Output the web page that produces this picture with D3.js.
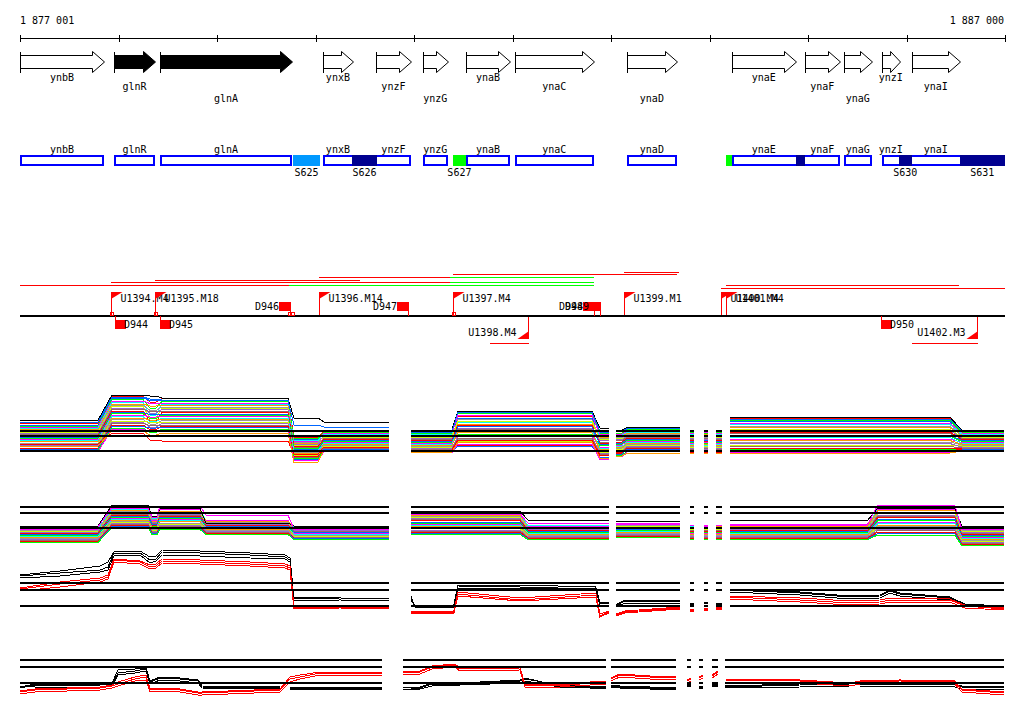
<!DOCTYPE html>
<html>
<head>
<meta charset="utf-8">
<script src="https://cdn.jsdelivr.net/npm/d3@7/dist/d3.min.js"></script>
<style>
html,body{margin:0;padding:0;background:#fff;}
svg{display:block;}
text{font-family:"DejaVu Sans Mono",monospace;font-size:10px;fill:#000;}
</style>
</head>
<body>
<svg id="chart" width="1024" height="714"></svg>
<script>
// ---------------- DATA (positions are bp offsets from 1 877 000) ----------------
const rulerLabels = ["1 877 001", "1 887 000"];
const rulerTicks = [0,1000,2000,3000,4000,5000,6000,7000,8000,9000,10000];

const geneNames = ["ynbB","glnR","glnA","ynxB","ynzF","ynzG","ynaB","ynaC","ynaD","ynaE","ynaF","ynaG","ynzI","ynaI"];
const geneStart = [0,954,1421,3075,3613,4090,4527,5024,6161,7228,7968,8364,8749,9054];
const geneEnd   = [853,1370,2761,3380,3969,4344,4974,5826,6669,7876,8323,8648,8932,9541];
const geneDark  = [0,1,1,0,0,0,0,0,0,0,0,0,0,0];
const geneLabelRow = [0,1,2,0,1,2,0,1,2,0,1,2,0,1];

const boxStart = [0,954,1421,3075,4090,4527,5024,6161,7228,8364,8749];
const boxEnd   = [853,1370,2761,3969,4344,4974,5826,6669,8323,8648,9998];

const segNames = ["S625","S626","S627","","","S630","S631"];
const segStart = [2771,3370,4395,7166,7876,8922,9541];
const segEnd   = [3045,3624,4527,7228,7968,9054,9998];
const segColors = ["#0099ff","#000090","#00ff00","#00ff00","#000090","#000090","#000090"];

const trackLineStart = [0,2730,924,4365,1370,3035,4365,4395,6131,7166,7115];
const trackLineEnd   = [2730,5826,4365,5826,3451,4365,5826,6669,6689,9531,9998];
const trackLineRow   = [1,1,2,2,3,4,4,5,6,1,0];
const trackLineColor = ["#ff0000","#00ff00","#ff0000","#00ff00","#ff0000","#ff0000","#00ff00","#ff0000","#ff0000","#ff0000","#ff0000"];

const promNames = ["U1394.M4","U1395.M18","U1396.M14","U1397.M4","U1399.M1","U1400.M4","U1401.M4"];
const promPos   = [924,1370,3035,4395,6131,7115,7166];
const promDownNames = ["U1398.M4","U1402.M3"];
const promDownPos   = [5156,9714];
const promDownLineStart = [4771,9054];

const termNames  = ["D944","D945","D946","D947","D948","D949","D950"];
const termPos    = [964,1421,2741,3938,5826,5887,8739];
const termStrand = [-1,-1,1,1,1,1,-1];
const baseMarkPos = [914,1360,2720,2751,4385];

// Panel A (tiling signal, many conditions) – level per probe block
const blocksA = [[0,792],[934,1248],[1320,1380],[1441,2720],[2781,3025],[3086,3745],[3969,4385],[4446,5806],[5887,5978],[6049,6110],[6171,6699],[6801,6841],[6943,6983],[7064,7125],[7207,9440],[9561,9988]];
const blockSegA = [1,1,1,1,1,1,2,2,2,3,3,4,5,6,7,7];
const seriesA = [
 [9.3,14.7,13.6,14.3,6.5,7.9,7.8,10.7,7.9,7.9,8.5,7.9,7.7,7.9,10.3,7.9],
 [9.0,14.4,13.9,14.0,6.1,7.7,7.6,10.4,7.6,7.7,8.3,7.7,7.9,7.7,9.7,7.7],
 [8.8,14.1,12.4,13.7,6.3,7.5,7.4,11.3,7.4,7.4,8.1,7.5,7.3,7.5,10.0,7.5],
 [8.6,13.8,13.3,13.4,5.7,7.4,7.2,11.0,7.1,7.2,7.8,7.3,7.5,7.3,9.4,7.4],
 [8.3,13.5,11.0,13.2,5.9,7.2,7.1,9.5,6.9,7.0,7.6,7.1,6.9,7.1,9.1,7.2],
 [8.1,13.2,12.8,12.9,5.3,7.0,6.9,9.2,6.6,6.8,7.4,6.9,7.1,6.9,8.5,7.0],
 [7.8,13.0,11.9,12.6,5.5,6.8,6.7,10.1,6.4,6.5,7.2,6.7,6.5,6.7,8.8,6.8],
 [7.6,12.7,10.4,12.3,4.9,6.6,6.5,9.8,6.1,6.3,7.0,6.5,6.7,6.5,8.2,6.6],
 [7.3,12.4,11.4,12.1,5.1,6.4,6.3,8.4,5.9,6.1,6.8,6.3,6.1,6.3,7.9,6.4],
 [7.1,12.1,11.7,11.8,4.5,6.3,6.1,8.1,5.6,5.9,6.6,6.1,6.3,6.1,7.3,6.3],
 [6.9,11.8,9.6,11.5,4.7,6.1,5.9,9.0,5.4,5.6,6.4,5.9,5.7,5.9,7.6,6.1],
 [6.6,11.5,11.1,11.2,4.1,5.9,5.7,8.7,5.1,5.4,6.2,5.7,5.9,5.7,7.0,5.9],
 [6.4,11.3,10.3,11.0,4.3,5.7,5.6,7.2,4.9,5.2,6.0,5.5,5.3,5.5,6.8,5.7],
 [6.1,11.0,10.6,10.7,3.7,5.5,5.4,6.9,4.6,5.0,5.8,5.3,5.5,5.3,6.2,5.5],
 [5.9,10.7,9.7,10.4,3.9,5.3,5.2,7.8,4.4,4.7,5.6,5.1,4.9,5.1,6.5,5.3],
 [5.7,10.4,10.0,10.1,3.3,5.2,5.0,7.5,4.1,4.5,5.4,4.9,5.1,4.9,5.9,5.2],
 [5.4,10.1,9.2,9.9,3.5,5.0,4.8,6.1,3.9,4.3,5.2,4.7,4.5,4.7,5.6,5.0],
 [5.2,9.8,9.5,9.6,2.9,4.8,4.6,5.8,3.6,4.1,5.0,4.5,4.7,4.5,5.0,4.8],
 [4.9,9.6,8.6,9.3,3.1,4.6,4.4,6.7,3.4,3.8,4.8,4.3,4.1,4.3,5.3,4.6],
 [4.7,9.3,8.9,9.0,2.5,4.4,4.2,6.4,3.1,3.6,4.6,4.1,4.3,4.1,4.7,4.4],
 [4.4,9.0,8.1,8.8,2.7,4.2,4.0,4.9,2.9,3.4,4.4,3.9,3.7,3.9,4.4,4.2],
 [4.2,8.7,8.4,8.5,2.1,4.1,3.8,4.7,2.6,3.2,4.2,3.7,3.9,3.7,3.8,4.1],
 [4.0,8.4,7.5,8.2,2.3,3.9,3.7,5.5,2.4,2.9,3.9,3.5,3.3,3.5,4.1,3.9],
 [3.7,8.1,7.8,7.9,1.9,3.7,3.5,5.2,2.1,2.7,3.7,3.3,3.5,3.3,3.5,3.7]
];
const extraA = [
 [10.0,15.0,14.8,14.4,10.4,9.6,8.0,11.8,8.4,8.0,8.6,8.0,8.0,8.0,10.6,8.0],
 [9.6,14.6,14.2,14.0,9.0,8.6,7.6,11.6,7.8,7.8,8.4,7.8,7.8,7.8,10.2,7.8],
 [5.2,7.4,6.0,5.8,3.2,4.6,4.0,6.0,3.0,3.6,4.4,3.6,3.6,3.6,4.4,4.0],
 [4.8,7.8,7.0,7.4,1.5,4.0,3.6,5.6,2.4,2.8,3.4,3.4,3.4,3.4,3.4,3.8]
];
const extraAColors = ["#000000","#0066ff","#ff0000","#ff9900"];
const refsA = [7.8,6.8,3.8];

// Panel B
const blocksB = [[0,792],[934,1299],[1340,1391],[1421,1827],[1888,2720],[2781,3745],[3969,5075],[5156,5978],[6049,6699],[6801,6841],[6943,6983],[7064,7125],[7207,8607],[8709,9490],[9561,9988]];
const blockSegB = [1,1,1,1,1,1,2,2,3,4,5,6,7,7,7];
const seriesB = [
 [4.2,8.3,6.0,8.1,5.9,4.4,7.5,4.8,5.3,4.6,4.7,4.4,4.9,8.2,4.3],
 [4.3,8.1,6.3,8.3,5.6,4.5,7.3,4.9,5.0,4.7,4.4,4.6,4.6,8.5,4.5],
 [4.0,7.9,5.8,7.8,5.8,4.3,7.0,4.6,5.2,4.4,4.6,4.7,4.8,7.9,4.1],
 [3.9,7.7,6.1,7.6,5.5,4.1,6.8,4.5,4.9,4.3,4.3,4.3,4.5,7.6,3.9],
 [3.7,7.5,5.6,7.4,5.3,4.0,6.6,4.3,4.7,4.2,4.2,4.2,4.3,7.3,3.7],
 [3.6,7.3,5.5,7.2,5.2,3.9,6.3,4.2,4.6,4.0,4.0,4.0,4.2,7.0,3.5],
 [3.4,7.1,5.3,7.0,5.0,3.8,6.1,4.0,4.4,3.9,3.9,3.9,4.0,6.8,3.3],
 [3.3,6.9,4.9,6.7,4.9,3.6,5.9,3.9,4.3,3.8,3.8,3.8,3.9,6.5,3.1],
 [3.1,6.7,5.1,6.5,4.7,3.5,5.6,3.7,4.1,3.6,3.6,3.6,3.7,6.2,2.9],
 [3.0,6.5,4.8,6.3,4.6,3.4,5.4,3.6,4.0,3.5,3.5,3.5,3.6,5.9,2.7],
 [2.8,6.3,4.6,6.1,4.4,3.3,5.2,3.4,3.8,3.3,3.3,3.3,3.4,5.6,2.6],
 [2.7,6.1,4.4,5.9,4.3,3.1,5.0,3.3,3.7,3.2,3.2,3.2,3.3,5.3,2.4],
 [2.5,5.9,4.3,5.7,4.1,3.0,4.7,3.1,3.5,3.1,3.1,3.1,3.1,5.0,2.2],
 [2.4,5.7,4.1,5.4,4.0,2.9,4.5,3.0,3.4,2.9,2.9,2.9,3.0,4.8,2.0],
 [2.2,5.5,3.9,5.2,3.8,2.8,4.3,2.8,3.2,2.8,2.8,2.8,2.8,4.5,1.8],
 [2.1,5.3,3.8,5.0,3.7,2.6,4.0,2.7,3.1,2.7,2.7,2.7,2.7,4.2,1.6],
 [1.9,5.1,3.6,4.8,3.5,2.5,3.8,2.5,2.9,2.5,2.5,2.5,2.5,3.9,1.4],
 [1.8,4.9,3.4,4.6,3.4,2.4,3.6,2.4,2.8,2.4,2.4,2.4,2.4,3.6,1.2],
 [1.6,4.7,3.3,4.3,3.2,2.3,3.3,2.2,2.6,2.2,2.2,2.2,2.2,3.3,1.0],
 [1.5,4.5,3.1,4.1,3.1,2.1,3.1,2.1,2.5,2.1,2.1,2.1,2.1,3.0,0.9]
];
const extraB = [
 [4.8,9.0,6.8,8.4,5.4,4.8,7.8,6.0,5.8,5.0,5.0,5.0,6.0,8.4,4.8],
 [4.6,8.6,6.6,8.8,7.0,4.2,7.2,5.4,5.2,4.9,4.9,4.9,5.2,9.0,4.2]
];
const extraBColors = ["#000000","#ff00ff"];
const refsB = [8.6,7.4,4.4];

// Panel C
const posC = [0,406,812,893,954,1218,1320,1380,1441,1827,2335,2690,2741,2781,3248,3745, 3969,4009,4405,4446,5075,5846,5887,5978, 6049,6141,6699, 6801,6841,6943,6983,7064,7125, 7207,7917,8425,8729,8831,8932,9440,9592,9988];
const segC = [1,1,1,1,1,1,1,1,1,1,1,1,1,1,1,1, 2,2,2,2,2,2,2,2, 3,3,3, 4,4,5,5,6,6, 7,7,7,7,7,7,7,7,7];
const seriesC = [
 [7.8,8.4,9.0,9.6,12.4,12.4,11.0,11.2,12.6,12.4,12.0,11.6,11.0,3.2,3.4,3.2, 3.4,1.8,1.8,5.8,5.6,5.2,2.4,2.2, 1.8,2.8,2.8, 2.2,2.2,2.4,2.4,2.2,2.2, 5.0,4.4,3.6,3.8,4.8,4.2,3.4,2.0,1.6],
 [7.4,7.8,8.6,9.0,11.8,12.0,10.4,10.8,12.0,11.8,11.4,11.2,10.6,2.8,3.0,2.8, 3.8,1.6,1.6,5.4,5.4,5.0,2.0,1.8, 1.6,2.4,2.4, 1.8,1.8,2.0,2.0,1.8,1.8, 4.6,4.0,3.2,3.4,4.4,3.8,3.0,1.8,1.4],
 [8.0,8.8,9.8,10.6,12.6,12.8,11.6,11.8,13.0,12.8,12.4,12.0,11.4,3.4,3.6,3.6, 3.0,2.0,2.0,6.0,6.0,5.6,2.6,2.4, 2.0,3.0,3.0, 2.4,2.4,2.6,2.6,2.4,2.4, 5.2,4.6,3.8,4.0,5.0,4.4,3.6,2.2,1.8],
 [5.2,6.2,7.0,7.6,11.0,10.6,9.6,9.8,10.8,10.6,10.2,9.8,9.4,1.6,1.6,1.4, 0.6,0.6,0.6,4.2,3.0,4.0,-0.2,0.6, 0.0,0.6,1.4, 1.0,1.0,1.2,1.2,1.4,1.4, 3.6,3.0,2.4,2.6,3.0,3.0,3.0,1.8,1.2],
 [4.8,5.6,6.6,7.2,10.6,10.2,9.2,9.4,10.4,10.2,9.8,9.4,9.0,1.2,1.4,1.2, 0.4,0.4,0.4,3.8,2.8,3.6,-0.4,0.4, -0.2,0.4,1.2, 0.8,0.8,1.0,1.0,1.2,1.2, 3.2,2.6,2.0,2.2,2.6,2.6,2.6,1.4,1.0],
 [5.4,6.6,7.4,8.0,11.2,10.8,10.0,10.2,11.2,11.0,10.6,10.2,9.8,1.8,1.8,1.6, 0.8,0.8,0.8,4.6,3.4,4.4,0.2,0.8, 0.2,0.8,1.6, 1.2,1.2,1.4,1.4,1.6,1.6, 3.8,3.4,2.8,3.0,3.4,3.4,3.2,2.0,1.4]
];
const seriesCColors = ["#000000","#000000","#000000","#ff0000","#ff0000","#ff0000"];
const refsC = [6.4,5.0,1.8];

// Panel D
const posD = [0,152,812,934,995,1167,1279,1320,1421,1624,1807,1847,2639,2741,2842,3045,3674, 3887,4060,4182,4415,4466,5075,5126,5481,5786,5948, 5999,6090,6395,6658, 6770,6811,6892,6932,7024,7085, 7156,7917,8425,8526,8932,9490,9561,9988];
const segD = [1,1,1,1,1,1,1,1,1,1,1,1,1,1,1,1,1, 2,2,2,2,2,2,2,2,2,2, 3,3,3,3, 4,4,5,5,6,6, 7,7,7,7,7,7,7,7];
const seriesD = [
 [2.4,3.0,3.0,3.2,5.4,5.8,6.2,3.6,4.4,4.2,3.8,2.6,2.4,2.4,2.4,2.4,2.4, 2.4,2.6,3.4,3.4,3.4,4.0,4.4,2.8,2.6,2.6, 3.0,2.8,2.6,2.4, 3.2,3.2,2.8,2.8,3.2,3.2, 2.6,3.0,3.2,3.2,3.2,3.0,2.6,2.4],
 [2.8,2.6,2.6,2.8,5.0,5.4,5.8,3.2,4.0,3.8,3.4,2.4,2.2,2.2,2.2,2.2,2.0, 2.2,2.2,2.8,3.0,3.0,3.4,3.8,2.6,2.4,2.4, 2.6,2.4,2.2,2.0, 2.8,2.8,2.4,2.4,2.8,2.8, 2.4,2.6,2.8,2.8,2.8,2.6,2.2,2.0],
 [2.6,3.2,3.2,3.4,6.0,6.2,6.4,3.8,4.6,4.4,4.0,2.8,2.6,2.6,2.6,2.6,2.6, 2.0,2.4,3.2,3.2,3.2,3.8,4.2,3.0,2.8,2.8, 2.8,2.6,2.4,2.2, 3.0,3.0,2.6,2.6,3.0,3.0, 2.8,3.2,3.4,3.4,3.4,3.2,2.8,2.6],
 [1.6,2.0,2.4,2.8,3.2,4.2,4.6,2.0,2.2,2.0,1.4,1.4,2.0,4.2,4.6,5.4,5.4, 5.4,5.6,6.6,7.0,6.2,6.4,3.0,2.8,3.4,3.6, 4.2,5.0,4.6,4.4, 3.8,4.2,4.4,4.8,4.8,5.6, 4.0,3.8,3.2,3.6,3.8,3.6,2.0,1.4],
 [1.2,1.6,2.0,2.4,2.8,3.8,4.0,1.6,1.8,1.6,1.0,1.0,1.6,3.6,4.2,5.0,5.0, 5.0,5.2,6.2,6.6,5.8,6.0,2.6,2.6,3.0,3.2, 3.8,4.6,4.2,4.0, 3.4,3.8,4.0,4.4,4.4,5.2, 3.6,3.4,2.8,3.2,3.4,3.2,1.6,1.0],
 [1.8,2.2,2.6,3.0,3.6,4.6,5.0,2.2,2.4,2.2,1.6,1.6,2.2,4.6,5.0,5.6,5.6, 5.6,5.8,6.8,7.2,6.4,6.6,3.2,3.0,3.6,3.8, 4.4,5.2,4.8,4.6, 4.0,4.4,4.6,5.0,5.0,5.8, 4.2,4.0,3.4,3.8,4.0,3.8,2.2,1.6]
];
const seriesDColors = ["#000000","#000000","#000000","#ff0000","#ff0000","#ff0000"];
const refsD = [8.0,6.6,3.4];

const palette = ["#ff0000","#0066ff","#00ff00","#ff00ff","#00ffff","#ff9900","#999999","#ccff00","#9966cc","#996666"];

// ---------------- DRAWING ----------------
const svg = d3.select("#chart");
const x = d3.scaleLinear().domain([0, 10000]).range([20, 1005]);
const px = v => Math.round(x(v)) + 0.5;

// Ruler
const ruler = svg.append("g").attr("shape-rendering","crispEdges");
ruler.append("line").attr("x1",x(0)).attr("x2",x(10000)).attr("y1",38.5).attr("y2",38.5).attr("stroke","#000");
ruler.selectAll("line.tk").data(rulerTicks).join("line").attr("class","tk")
  .attr("x1",d=>px(d)).attr("x2",d=>px(d)).attr("y1",35).attr("y2",42).attr("stroke","#000");
svg.append("text").attr("x",20).attr("y",24).text(rulerLabels[0]);
svg.append("text").attr("x",1004).attr("y",24).attr("text-anchor","end").text(rulerLabels[1]);

// Gene arrows
const geneLabelY = [80.5, 90, 101.5];
const gArrows = svg.append("g");
geneNames.forEach((name,i)=>{
  const x0 = px(geneStart[i]), x1 = px(geneEnd[i]);
  const h = Math.min(12, (x1-x0)*0.55);
  const p = d3.path();
  p.moveTo(x0,55.5); p.lineTo(x1-h,55.5); p.lineTo(x1-h,51.5); p.lineTo(x1,62);
  p.lineTo(x1-h,72.5); p.lineTo(x1-h,68.5); p.lineTo(x0,68.5); p.closePath();
  gArrows.append("path").attr("d",p.toString()).attr("fill",geneDark[i]?"#000":"#fff").attr("stroke","#000");
  gArrows.append("line").attr("x1",x0).attr("x2",x0).attr("y1",51.5).attr("y2",72.5).attr("stroke","#000").attr("shape-rendering","crispEdges");
  gArrows.append("text").attr("x",(x(geneStart[i])+x(geneEnd[i]))/2).attr("y",geneLabelY[geneLabelRow[i]])
    .attr("text-anchor","middle").text(name);
});

// Gene box row
const gBox = svg.append("g").attr("shape-rendering","crispEdges");
boxStart.forEach((s,i)=>{
  gBox.append("rect").attr("x",Math.round(x(s))+1).attr("y",156).attr("width",Math.round(x(boxEnd[i]))-Math.round(x(s))-2).attr("height",9)
    .attr("fill","#fff").attr("stroke","#0000ff").attr("stroke-width",2);
});
segStart.forEach((s,i)=>{
  gBox.append("rect").attr("x",Math.round(x(s))).attr("y",155).attr("width",Math.round(x(segEnd[i]))-Math.round(x(s))).attr("height",11)
    .attr("fill",segColors[i]);
  if (segNames[i]) svg.append("text").attr("x",(x(s)+x(segEnd[i]))/2).attr("y",175.5).attr("text-anchor","middle").text(segNames[i]);
});
geneNames.forEach((name,i)=>{
  svg.append("text").attr("x",(x(geneStart[i])+x(geneEnd[i]))/2).attr("y",152.5).attr("text-anchor","middle").text(name);
});

// Flag track
const rowY = d3.scaleLinear().domain([0,6]).range([287.5,271.5]);
const gTrack = svg.append("g").attr("shape-rendering","crispEdges");
trackLineStart.forEach((s,i)=>{
  gTrack.append("line").attr("x1",x(s)).attr("x2",x(trackLineEnd[i])).attr("y1",Math.round(rowY(trackLineRow[i]))+0.5).attr("y2",Math.round(rowY(trackLineRow[i]))+0.5)
    .attr("stroke",trackLineColor[i]);
});
gTrack.append("line").attr("x1",x(0)).attr("x2",x(10000)).attr("y1",316).attr("y2",316).attr("stroke","#000").attr("stroke-width",2);
baseMarkPos.forEach(p=>{
  gTrack.append("rect").attr("x",px(p)-0.5).attr("y",312.5).attr("width",3).attr("height",3).attr("fill","#fff").attr("stroke","#ff0000");
});
promNames.forEach((name,i)=>{
  const xp = px(promPos[i]);
  gTrack.append("line").attr("x1",xp).attr("x2",xp).attr("y1",292).attr("y2",315).attr("stroke","#ff0000");
  svg.append("path").attr("d",`M${xp-0.5},292L${xp+11},292L${xp-0.5},299Z`).attr("fill","#ff0000");
  svg.append("text").attr("x",xp+9).attr("y",301.5).text(name);
});
promDownNames.forEach((name,i)=>{
  const xp = px(promDownPos[i]);
  gTrack.append("line").attr("x1",xp).attr("x2",xp).attr("y1",317).attr("y2",339).attr("stroke","#ff0000");
  svg.append("path").attr("d",`M${xp+0.5},339L${xp-11},339L${xp+0.5},331Z`).attr("fill","#ff0000");
  svg.append("text").attr("x",xp-12).attr("y",336).attr("text-anchor","end").text(name);
  gTrack.append("line").attr("x1",x(promDownLineStart[i])).attr("x2",xp).attr("y1",343.5).attr("y2",343.5).attr("stroke","#ff0000");
});
termNames.forEach((name,i)=>{
  const xp = Math.round(x(termPos[i]));
  if (termStrand[i] > 0) {
    gTrack.append("rect").attr("x",xp-11).attr("y",302).attr("width",11).attr("height",9).attr("fill","#ff0000");
    gTrack.append("line").attr("x1",xp+0.5).attr("x2",xp+0.5).attr("y1",302).attr("y2",316).attr("stroke","#ff0000");
    svg.append("text").attr("x",xp-11).attr("y",309.5).attr("text-anchor","end").text(name);
  } else {
    gTrack.append("line").attr("x1",xp+0.5).attr("x2",xp+0.5).attr("y1",316).attr("y2",329).attr("stroke","#ff0000");
    gTrack.append("rect").attr("x",xp).attr("y",320).attr("width",11).attr("height",9).attr("fill","#ff0000");
    svg.append("text").attr("x",xp+9).attr("y",327.5).text(name);
  }
});

// Line panels
function segGroups(segIds){
  const m = new Map();
  segIds.forEach((s,i)=>{ if(!m.has(s)) m.set(s,[]); m.get(s).push(i); });
  return [...m.values()];
}
function drawPanel(xsList, segIds, seriesList, colorList, y, refs){
  const g = svg.append("g").attr("shape-rendering","crispEdges").attr("fill","none");
  const groups = segGroups(segIds);
  const line = d3.line().x(d=>x(d[0])).y(d=>y(d[1]));
  seriesList.forEach((vals,si)=>{
    groups.forEach(idx=>{
      const pts = [];
      idx.forEach(i=>xsList[i].forEach(p=>pts.push([p, vals[i]])));
      g.append("path").attr("d",line(pts)).attr("stroke",colorList[si]).attr("stroke-width",1);
    });
  });
  groups.forEach(idx=>{
    const a = xsList[idx[0]][0];
    const lastXs = xsList[idx[idx.length-1]];
    const b = lastXs[lastXs.length-1];
    refs.forEach(r=>{
      g.append("line").attr("x1",x(a)).attr("x2",x(b)).attr("y1",Math.round(y(r))).attr("y2",Math.round(y(r)))
        .attr("stroke","#000").attr("stroke-width",2);
    });
  });
}
const yA = d3.scaleLinear().domain([0,16]).range([470,390]);
const yB = d3.scaleLinear().domain([0,16]).range([550,470]);
const yC = d3.scaleLinear().domain([0,16]).range([615,535]);
const yD = d3.scaleLinear().domain([0,16]).range([700,620]);

drawPanel(blocksA, blockSegA, seriesA.concat(extraA), seriesA.map((d,i)=>palette[i%palette.length]).concat(extraAColors), yA, refsA);
drawPanel(blocksB, blockSegB, seriesB.concat(extraB), seriesB.map((d,i)=>palette[(i+3)%palette.length]).concat(extraBColors), yB, refsB);
drawPanel(posC.map(p=>[p]), segC, seriesC, seriesCColors, yC, refsC);
drawPanel(posD.map(p=>[p]), segD, seriesD, seriesDColors, yD, refsD);
</script>
</body>
</html>
